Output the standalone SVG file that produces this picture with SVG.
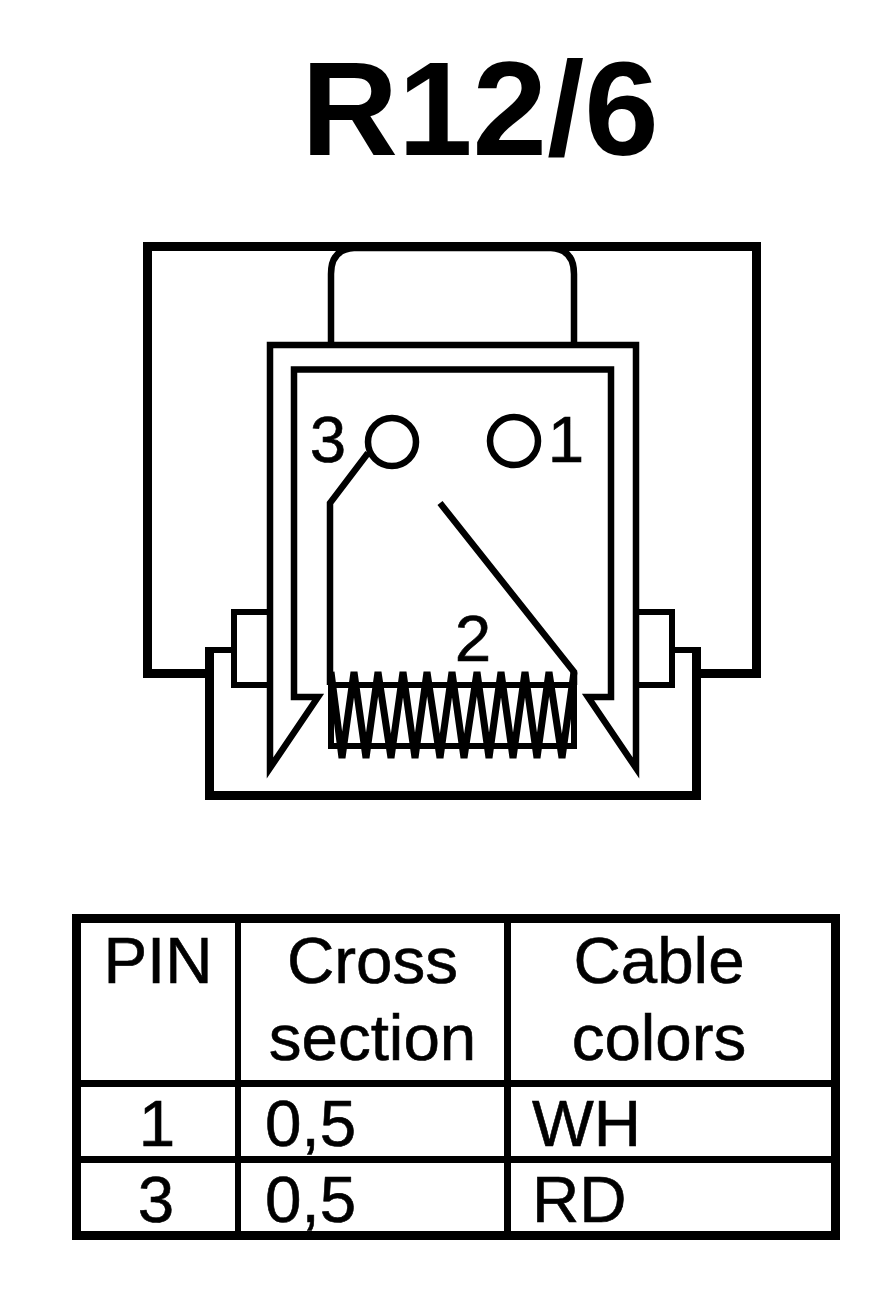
<svg xmlns="http://www.w3.org/2000/svg" width="896" height="1294" viewBox="0 0 896 1294">
<style>
.l{fill:none;stroke:#000;stroke-width:6.500;shape-rendering:crispEdges}
.t{fill:none;stroke:#000;stroke-width:9;shape-rendering:crispEdges}
.a{fill:none;stroke:#000;stroke-width:6.500}
.c{fill:none;stroke:#000;stroke-width:7;stroke-linejoin:bevel}
text{font-family:"Liberation Sans",Arial,sans-serif;fill:#000}
.n{font-size:65.500px;stroke:#000;stroke-width:.6}
.m{text-anchor:middle}
</style>
<rect width="896" height="1294" fill="#fff"/>
<g id="title"><text x="480" y="155" class="m" font-size="134" font-weight="bold">R12/6</text></g>
<g id="connector">
<path id="frame" class="t" d="M209 673.500H147.500V246.500H756V673.500H696.500"/>
<path id="tab" class="a" d="M331 345V274Q331 249 354 248H551Q574 249 574 274V345"/>
<path id="shell" class="t" d="M209 647V795H696.500V647"/>
<path class="l" d="M234 650H205M672 650H700M270 612H234V685H270M636 612H672V685H636"/>
<path id="housing" class="a" d="M294 697V369.500H611V697H588L636 768V345H270V768L318 697H294Z"/>
<rect x="331" y="685" width="243" height="61" class="l"/>
<path id="coil" class="c" d="M331 672L342 758L354 672L366 758L378 672L391 758L403 672L415 758L427 672L440 758L452 672L464 758L477 672L489 758L501 672L513 758L525 672L537 758L549 672L562 758L574 672"/>
<circle cx="392" cy="442" r="24" class="a"/>
<circle cx="514" cy="441" r="24" class="a"/>
<path class="a" d="M368 453L330 503V685"/>
<path class="a" d="M440 503L574 672V685"/>
<text x="328" y="462" class="m n">3</text>
<text x="566" y="462" class="m n">1</text>
<text x="473" y="661" class="m n">2</text>
</g>
<g id="table">
<rect x="76.500" y="918.500" width="759" height="317" class="t"/>
<path class="l" d="M76 1083.500H835M76 1159.500H835M238 918V1236M507.500 918V1236"/>
<g class="n">
<text x="158" y="983" class="m">PIN</text>
<text x="372.500" y="983" class="m">Cross</text>
<text x="372.500" y="1060" class="m">section</text>
<text x="659" y="983" class="m">Cable</text>
<text x="659" y="1060" class="m">colors</text>
<text x="157" y="1146" class="m">1</text>
<text x="265" y="1146">0,5</text>
<text x="532" y="1146">WH</text>
<text x="156" y="1222" class="m">3</text>
<text x="265" y="1222">0,5</text>
<text x="532" y="1222">RD</text>
</g>
</g>
</svg>
